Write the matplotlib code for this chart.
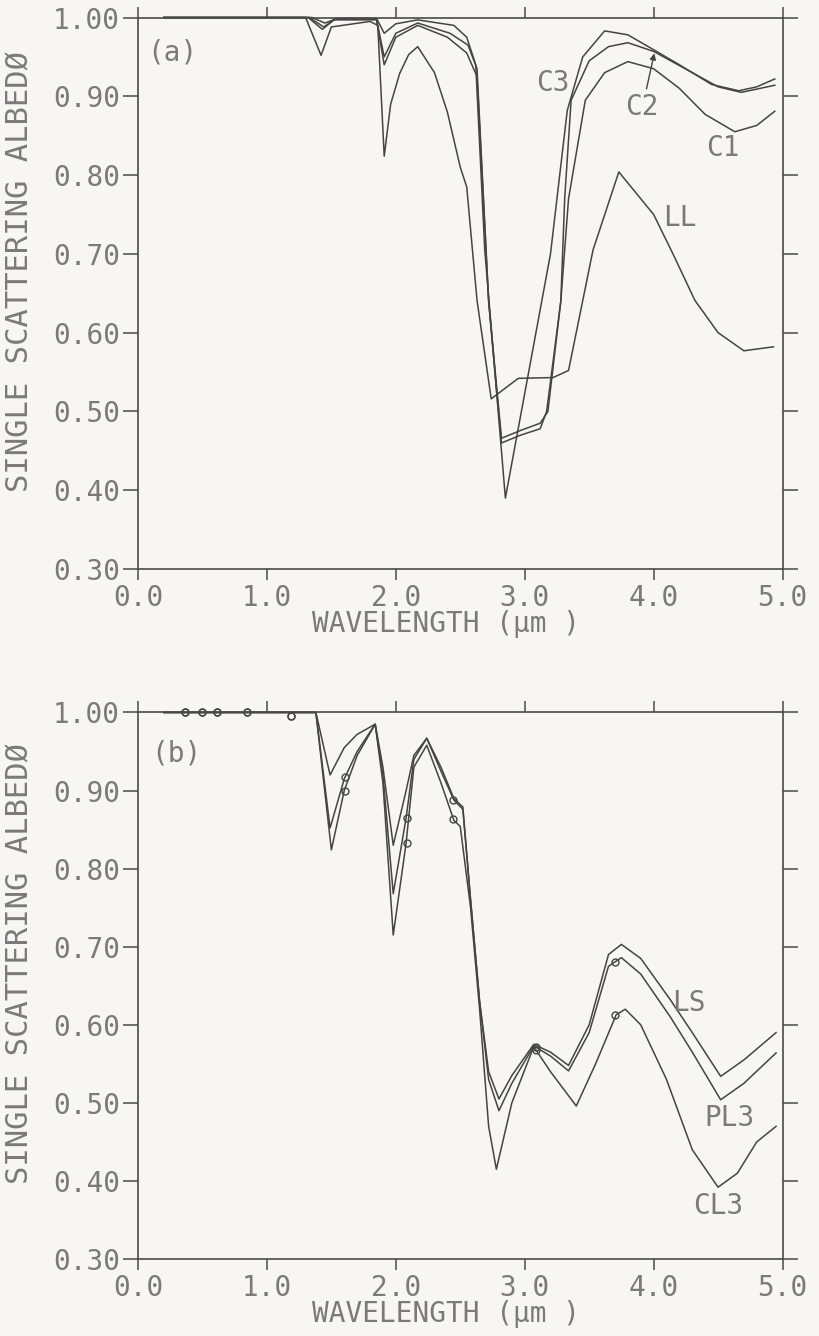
# Single scattering albedo vs wavelength, two panels (a) and (b)

import matplotlib
matplotlib.use("Agg")
import matplotlib.pyplot as plt

plt.rcParams["font.family"] = ["DejaVu Sans Mono"]

# ---- panel (a) data ----
ll_wl = [0.2, 1.30, 1.42, 1.50, 1.80, 1.86, 1.91, 1.96, 2.03, 2.10, 2.17, 2.30, 2.40, 2.50, 2.55, 2.63,
         2.74, 2.95, 3.22, 3.34, 3.53, 3.73, 4.00, 4.15, 4.32, 4.50, 4.70, 4.93]
ll_al = [1.0, 1.0, 0.952, 0.988, 0.995, 0.99, 0.824, 0.89, 0.929, 0.953, 0.963, 0.93, 0.88, 0.81, 0.785, 0.641,
         0.516, 0.542, 0.543, 0.552, 0.705, 0.804, 0.75, 0.70, 0.641, 0.600, 0.577, 0.582]

c1_wl = [0.2, 1.32, 1.43, 1.52, 1.85, 1.91, 2.00, 2.17, 2.40, 2.55, 2.63, 2.72, 2.78, 2.82, 2.97, 3.12,
         3.17, 3.28, 3.34, 3.47, 3.62, 3.80, 4.00, 4.20, 4.40, 4.63, 4.80, 4.94]
c1_al = [1.0, 1.0, 0.985, 0.997, 0.997, 0.94, 0.975, 0.99, 0.975, 0.955, 0.925, 0.64, 0.53, 0.46, 0.47, 0.478,
         0.50, 0.64, 0.77, 0.895, 0.93, 0.944, 0.935, 0.91, 0.877, 0.855, 0.863, 0.881]

c2_wl = [0.2, 1.33, 1.44, 1.53, 1.85, 1.91, 2.00, 2.17, 2.42, 2.56, 2.63, 2.72, 2.78, 2.82, 2.97, 3.12,
         3.18, 3.28, 3.31, 3.36, 3.50, 3.65, 3.80, 4.00, 4.30, 4.50, 4.68, 4.94]
c2_al = [1.0, 1.0, 0.988, 0.998, 0.998, 0.95, 0.98, 0.993, 0.98, 0.965, 0.935, 0.64, 0.535, 0.466, 0.476, 0.485,
         0.50, 0.64, 0.77, 0.895, 0.945, 0.963, 0.968, 0.957, 0.93, 0.912, 0.905, 0.914]

c3_wl = [0.2, 1.35, 1.45, 1.55, 1.85, 1.91, 2.00, 2.17, 2.45, 2.55, 2.62, 2.69, 2.85, 3.20, 3.33, 3.45,
         3.62, 3.80, 3.98, 4.20, 4.45, 4.66, 4.80, 4.94]
c3_al = [1.0, 1.0, 0.993, 0.999, 0.999, 0.98, 0.992, 0.997, 0.99, 0.975, 0.94, 0.705, 0.39, 0.70, 0.882, 0.95,
         0.983, 0.978, 0.961, 0.94, 0.915, 0.907, 0.912, 0.922]

# ---- panel (b) data ----
ls_wl = [0.2, 1.38, 1.49, 1.60, 1.70, 1.84, 1.90, 1.98, 2.08, 2.14, 2.24, 2.35, 2.45, 2.52, 2.58, 2.65,
         2.72, 2.80, 2.90, 3.07, 3.20, 3.34, 3.50, 3.65, 3.75, 3.90, 4.13, 4.30, 4.52, 4.70, 4.95]
ls_al = [1.0, 1.0, 0.92, 0.955, 0.972, 0.985, 0.93, 0.83, 0.90, 0.945, 0.967, 0.93, 0.89, 0.879, 0.76, 0.63,
         0.54, 0.505, 0.535, 0.575, 0.565, 0.548, 0.60, 0.69, 0.703, 0.685, 0.632, 0.59, 0.534, 0.555, 0.59]
pl3_al = [1.0, 1.0, 0.852, 0.915, 0.95, 0.985, 0.92, 0.768, 0.865, 0.94, 0.967, 0.925, 0.888, 0.876, 0.76, 0.63,
          0.53, 0.49, 0.525, 0.573, 0.56, 0.541, 0.59, 0.675, 0.686, 0.665, 0.61, 0.565, 0.504, 0.525, 0.564]

cl3_wl = [0.2, 1.38, 1.50, 1.60, 1.70, 1.84, 1.90, 1.98, 2.08, 2.14, 2.24, 2.35, 2.45, 2.50, 2.58, 2.65,
          2.72, 2.78, 2.90, 3.07, 3.20, 3.40, 3.55, 3.71, 3.78, 3.90, 4.10, 4.30, 4.50, 4.65, 4.80, 4.95]
cl3_al = [1.0, 1.0, 0.824, 0.90, 0.945, 0.985, 0.91, 0.715, 0.833, 0.93, 0.958, 0.91, 0.862, 0.854, 0.75, 0.62,
          0.47, 0.415, 0.50, 0.572, 0.54, 0.496, 0.55, 0.613, 0.62, 0.60, 0.53, 0.44, 0.392, 0.41, 0.45, 0.47]

# measured points (open circles)
circ_wl = [0.365, 0.494, 0.61, 0.843, 1.185, 1.606, 2.085, 2.446, 3.09, 3.70]
circ_pl3 = [1.0, 1.0, 1.0, 1.0, 0.996, 0.918, 0.865, 0.888, 0.572, 0.680]
circ_cl3 = [1.0, 1.0, 1.0, 1.0, 0.995, 0.899, 0.833, 0.863, 0.568, 0.613]

x_ticks = [0, 1, 2, 3, 4, 5]
x_ticklabels = ["0.0", "1.0", "2.0", "3.0", "4.0", "5.0"]
y_ticks = [0.3, 0.4, 0.5, 0.6, 0.7, 0.8, 0.9, 1.0]
y_ticklabels = ["0.30", "0.40", "0.50", "0.60", "0.70", "0.80", "0.90", "1.00"]

line_col = "#444444"
text_col = "#7a7a7a"
bg = "#f7f6f3"

fig = plt.figure(figsize=(8.2, 13.36), dpi=100, facecolor=bg)
ax_a = fig.add_axes([0.1683, 0.5741, 0.786, 0.4128])
ax_b = fig.add_axes([0.1683, 0.0576, 0.786, 0.4091])


def style_axes(ax):
    ax.set_facecolor(bg)
    ax.set_xlim(0, 5)
    ax.set_ylim(0.3, 1.0)
    ax.set_xticks(x_ticks)
    ax.set_xticklabels(x_ticklabels)
    ax.set_yticks(y_ticks)
    ax.set_yticklabels(y_ticklabels)
    for s in ax.spines.values():
        s.set_color("#4a4a4a")
        s.set_linewidth(1.2)
    ax.tick_params(axis="both", which="both", direction="out", top=True, right=True,
                   color="#4a4a4a", width=1.1, labelcolor=text_col, labelsize=20)
    ax.tick_params(axis="x", length=8, pad=3)
    ax.tick_params(axis="y", length=11, pad=2)
    ax.set_xlabel("WAVELENGTH (μm )", fontsize=20, color=text_col, labelpad=2)
    ax.xaxis.set_label_coords(0.478, -0.075)
    ax.set_ylabel("SINGLE SCATTERING ALBEDØ", fontsize=22, color=text_col)
    ax.yaxis.set_label_coords(-0.16, 0.54)


style_axes(ax_a)
style_axes(ax_b)

# panel (a)
lw = 1.1
ax_a.plot(ll_wl, ll_al, color=line_col, lw=lw, clip_on=False)
ax_a.plot(c1_wl, c1_al, color=line_col, lw=lw, clip_on=False)
ax_a.plot(c2_wl, c2_al, color=line_col, lw=lw, clip_on=False)
ax_a.plot(c3_wl, c3_al, color=line_col, lw=lw, clip_on=False)

ax_a.text(0.27, 0.955, "(a)", fontsize=20, color=text_col, ha="center", va="center")
ax_a.text(3.22, 0.917, "C3", fontsize=20, color=text_col, ha="center", va="center")
ax_a.text(3.91, 0.886, "C2", fontsize=20, color=text_col, ha="center", va="center")
ax_a.text(4.54, 0.834, "C1", fontsize=20, color=text_col, ha="center", va="center")
ax_a.text(4.20, 0.746, "LL", fontsize=20, color=text_col, ha="center", va="center")
ax_a.annotate("", xy=(4.01, 0.958), xytext=(3.94, 0.906),
              arrowprops=dict(arrowstyle="-|>", color=line_col, lw=1.0, mutation_scale=9))

# panel (b)
ax_b.plot(ls_wl, ls_al, color=line_col, lw=lw, clip_on=False)
ax_b.plot(ls_wl, pl3_al, color=line_col, lw=lw, clip_on=False)
ax_b.plot(cl3_wl, cl3_al, color=line_col, lw=lw, clip_on=False)
ax_b.plot(circ_wl, circ_pl3, "o", ms=5, mfc="none", mec=line_col, mew=1.0, clip_on=False)
ax_b.plot(circ_wl, circ_cl3, "o", ms=5, mfc="none", mec=line_col, mew=1.0, clip_on=False)

ax_b.text(0.30, 0.948, "(b)", fontsize=20, color=text_col, ha="center", va="center")
ax_b.text(4.27, 0.628, "LS", fontsize=20, color=text_col, ha="center", va="center")
ax_b.text(4.59, 0.481, "PL3", fontsize=20, color=text_col, ha="center", va="center")
ax_b.text(4.50, 0.368, "CL3", fontsize=20, color=text_col, ha="center", va="center")

fig.savefig("out.png", dpi=100, facecolor=bg)
